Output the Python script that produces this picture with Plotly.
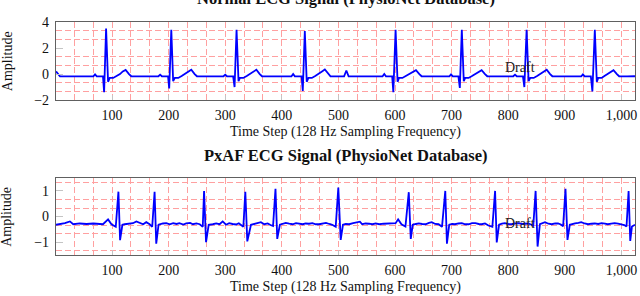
import plotly.graph_objects as go

# ---------------- data ----------------
normal_x = [1, 4, 8, 30, 50,
            67, 70, 73, 84, 86, 89.5, 93, 96, 102, 108, 114, 119, 124, 130, 134, 150, 170,
            182, 185, 188, 199, 201, 204.7, 208, 211, 217, 223, 229, 235, 240, 246, 250, 270, 285,
            297, 300, 303, 314, 316.5, 320, 323.5, 326, 332, 338, 344, 350, 355, 361, 365, 385, 405,
            417, 420, 423, 435, 437, 440.6, 444, 447, 453, 459, 465, 471, 476, 482, 486, 500,
            510, 514, 518, 540, 560,
            578, 581, 584, 595, 597, 601, 604.5, 607, 613, 619, 625, 631, 637, 643, 647, 665, 685,
            696, 699, 702, 712, 714.5, 718, 721.5, 724, 730, 736, 742, 748, 753, 759, 763, 780, 800,
            809, 812, 815, 826, 828.5, 832.5, 836, 839, 845, 851, 857, 863, 868, 874, 878, 900, 920,
            929, 932, 935, 946, 948.7, 953, 956.5, 959, 965, 970, 975, 981, 986, 992, 996, 1010, 1024]
normal_y = [0.2, 0.0, -0.17, -0.18, -0.17,
            -0.17, -0.02, -0.17, -0.18, -1.4, 3.5, -0.6, -0.3, -0.3, -0.15, 0.0, 0.2, 0.32, 0.0, -0.17, -0.18, -0.17,
            -0.17, -0.05, -0.17, -0.18, -1.1, 3.4, -0.55, -0.3, -0.3, -0.15, 0.0, 0.2, 0.33, 0.0, -0.17, -0.18, -0.17,
            -0.17, -0.05, -0.17, -0.18, -1.0, 3.4, -0.55, -0.3, -0.3, -0.15, 0.0, 0.2, 0.33, 0.0, -0.17, -0.18, -0.17,
            -0.17, 0.0, -0.17, -0.18, -1.3, 3.3, -0.6, -0.3, -0.3, -0.15, 0.0, 0.2, 0.35, 0.0, -0.17, -0.18,
            -0.17, 0.27, -0.17, -0.18, -0.17,
            -0.17, 0.0, -0.17, -0.18, -1.4, 3.4, -0.6, -0.3, -0.3, -0.15, 0.0, 0.2, 0.3, 0.0, -0.17, -0.18, -0.17,
            -0.17, -0.02, -0.17, -0.18, -1.07, 3.4, -0.55, -0.3, -0.3, -0.15, 0.0, 0.2, 0.3, 0.0, -0.17, -0.18, -0.17,
            -0.17, -0.05, -0.17, -0.18, -1.0, 3.4, -0.55, -0.3, -0.3, -0.15, 0.0, 0.2, 0.33, 0.0, -0.17, -0.18, -0.17,
            -0.17, -0.02, -0.17, -0.18, -1.33, 3.4, -0.6, -0.3, -0.3, -0.15, 0.0, 0.2, 0.3, 0.0, -0.17, -0.18, -0.17]

pxaf_x = [1, 10, 16.8, 25.6, 31.5, 43, 55, 67, 76, 84, 93, 99, 106.6, 111.3, 114.2, 118.3, 122.4,
          130, 137, 143, 149, 155, 160.5, 166.4, 171, 175.2, 178.1, 182.2,
          190, 196, 202, 208, 214, 219, 226, 231, 238, 243, 249, 255, 260.3, 262.6, 266.1, 270.8,
          278, 284, 290, 295.5, 301.4, 307, 313, 319, 324, 328, 332, 335.5, 339, 345.5,
          354, 363, 369, 375, 380, 384.5, 388.8, 391.9, 396.6,
          402, 407, 413, 419, 425, 431, 437, 442, 448, 454, 460, 466, 472, 478, 484, 489, 495.2, 499.8, 504, 508,
          513, 519, 526, 533, 538, 542, 548, 554, 560, 566, 572, 580, 589, 595, 601, 605.5, 611.4, 618.4,
          624.3, 627.8, 631.3, 637, 642, 648, 654, 660, 665, 671, 677, 683, 688.8, 691.7, 695.8,
          701, 706, 712, 718, 724, 730, 736, 742, 748, 753, 759, 765, 772, 776.8, 779.7, 783.8,
          789, 794, 800, 806, 812, 818, 824, 830, 835.5, 840, 844.3, 848.4, 851.9, 856,
          861, 865, 871, 877, 883, 888, 893, 897, 901.2, 904.7, 908.8,
          913, 918, 924, 929, 935, 941, 947, 953, 959, 965, 971, 976, 982, 988, 994, 1000, 1005, 1009,
          1012.7, 1015.6, 1018.6, 1024]
pxaf_y = [-0.32, -0.29, -0.26, -0.19, -0.30, -0.27, -0.29, -0.27, -0.28, -0.30, -0.11, -0.30, -0.40, 0.97, -0.92, -0.32, -0.30,
          -0.27, -0.26, -0.19, -0.26, -0.30, -0.22, -0.30, -0.40, 0.97, -1.06, -0.32,
          -0.27, -0.26, -0.30, -0.26, -0.29, -0.26, -0.31, -0.27, -0.25, -0.30, -0.27, -0.30, -0.40, 1.0, -1.0, -0.32,
          -0.30, -0.27, -0.30, -0.19, -0.32, -0.26, -0.29, -0.31, -0.26, -0.33, -0.40, 0.97, -0.97, -0.32,
          -0.26, -0.22, -0.30, -0.27, -0.33, -0.37, 1.08, -0.87, -0.32,
          -0.28, -0.25, -0.28, -0.30, -0.26, -0.27, -0.30, -0.27, -0.28, -0.26, -0.30, -0.30, -0.26, -0.25, -0.29, -0.32, -0.40, 1.13, -0.91, -0.32,
          -0.29, -0.30, -0.26, -0.23, -0.20, -0.30, -0.27, -0.28, -0.30, -0.27, -0.30, -0.28, -0.28, -0.27, -0.26, -0.11, -0.30, -0.39,
          0.95, -0.87, -0.32, -0.29, -0.27, -0.29, -0.30, -0.25, -0.22, -0.29, -0.30, -0.40, 1.0, -1.06, -0.32,
          -0.29, -0.30, -0.27, -0.26, -0.30, -0.30, -0.26, -0.26, -0.29, -0.30, -0.27, -0.35, -0.40, 1.0, -1.01, -0.32,
          -0.28, -0.26, -0.29, -0.30, -0.27, -0.26, -0.29, -0.27, -0.27, -0.31, -0.36, 1.0, -1.17, -0.30,
          -0.25, -0.22, -0.28, -0.30, -0.27, -0.27, -0.31, -0.38, 1.08, -0.91, -0.32,
          -0.29, -0.27, -0.25, -0.22, -0.27, -0.30, -0.28, -0.27, -0.29, -0.26, -0.28, -0.30, -0.28, -0.26, -0.28, -0.30, -0.33, -0.39,
          1.0, -0.95, -0.39, -0.32]

x_ticks = [100, 200, 300, 400, 500, 600, 700, 800, 900, 1000]
top_y_ticks = [-2, 0, 2, 4]
bot_y_ticks = [-1, 0, 1]
titles = ["Normal ECG Signal (PhysioNet Database)", "PxAF ECG Signal (PhysioNet Database)"]
x_label = "Time Step (128 Hz Sampling Frequency)"
y_label = "Amplitude"
watermark = "Draft"

# ---------------- figure ----------------
FONT = "Liberation Serif"
LINE = "#0000ff"
GRID = "rgb(255,160,160)"
DASH = "6px,3px"

# ECG-paper style grid: vertical every 1/3 of 100 samples; horizontal at the
# minor positions (thirds of the major step) between the labelled ticks
x_grid = [k * 100.0 / 3.0 for k in range(1, 31)]
def y_grid(major_ticks):
    step = (major_ticks[1] - major_ticks[0]) / 3.0
    lo = major_ticks[0] - 3 * step
    vals = []
    for k in range(0, 3 * (len(major_ticks) + 1) + 1):
        v = round(lo + k * step, 6)
        if k % 3 != 0:
            vals.append(v)
    return vals

fig = go.Figure()
fig.add_trace(go.Scatter(x=normal_x, y=normal_y, mode="lines",
                         line=dict(color=LINE, width=1.8), xaxis="x", yaxis="y",
                         showlegend=False, hoverinfo="skip"))
fig.add_trace(go.Scatter(x=pxaf_x, y=pxaf_y, mode="lines",
                         line=dict(color=LINE, width=1.8), xaxis="x2", yaxis="y2",
                         showlegend=False, hoverinfo="skip"))

def xaxis_cfg(anchor):
    return dict(range=[1, 1024], anchor=anchor, domain=[0, 1],
                tickmode="array", tickvals=x_ticks, separatethousands=True,
                showgrid=False,
                minor=dict(tickmode="array", tickvals=x_grid, showgrid=True, gridcolor=GRID,
                           griddash=DASH, gridwidth=1.2, ticks=""),
                ticks="inside", ticklen=5, tickcolor="#c4c4c4", tickwidth=1,
                showline=True, mirror=True, linecolor="#606060", linewidth=1.2,
                zeroline=False, tickfont=dict(family=FONT, size=14, color="#111"),
                ticklabelstandoff=2)

def yaxis_cfg(anchor, rng, ticks):
    return dict(range=rng, anchor=anchor, tickmode="array", tickvals=ticks,
                showgrid=False,
                minor=dict(tickmode="array", tickvals=y_grid(ticks), showgrid=True,
                           gridcolor=GRID, griddash=DASH, gridwidth=1.2, ticks=""),
                ticks="inside", ticklen=7, tickcolor="#c4c4c4", tickwidth=1,
                showline=True, mirror=True, linecolor="#606060", linewidth=1.2,
                zeroline=False, tickfont=dict(family=FONT, size=14, color="#111"),
                ticklabelstandoff=3)

top_dom = [0.665, 1.0]
bot_dom = [0.0, 0.330]
fig.update_layout(
    width=640, height=296,
    margin=dict(l=56, r=3, t=22, b=41),
    paper_bgcolor="white", plot_bgcolor="white",
    xaxis=dict(xaxis_cfg("y")),
    yaxis=dict(yaxis_cfg("x", [-2, 4], top_y_ticks), domain=top_dom),
    xaxis2=dict(xaxis_cfg("y2")),
    yaxis2=dict(yaxis_cfg("x2", [-1.5, 1.5], bot_y_ticks), domain=bot_dom),
)

H = 233.0
def py(real_y):
    return (255.0 - real_y) / H

ann = []
for i, (ty, xl_y, yl_y) in enumerate([(-1.5, 131.5, 61.0), (155.0, 286.5, 216.7)]):
    ann.append(dict(text="<b>" + titles[i] + "</b>", xref="paper", yref="paper",
                    x=0.5, y=py(ty), xanchor="center", yanchor="middle", showarrow=False,
                    font=dict(family=FONT, size=16.5, color="#111")))
    ann.append(dict(text=x_label, xref="paper", yref="paper", x=0.5, y=py(xl_y),
                    xanchor="center", yanchor="middle", showarrow=False,
                    font=dict(family=FONT, size=14, color="#111")))
    ann.append(dict(text=y_label, xref="paper", yref="paper", x=(7 - 56) / 581.0, y=py(yl_y),
                    xanchor="center", yanchor="middle", showarrow=False, textangle=-90,
                    font=dict(family=FONT, size=14, color="#111")))
ann.append(dict(text=watermark, xref="x", yref="y", x=821, y=0.5, showarrow=False,
                font=dict(family=FONT, size=14, color="#222")))
ann.append(dict(text=watermark, xref="x2", yref="y2", x=821, y=-0.28, showarrow=False,
                font=dict(family=FONT, size=14, color="#222")))
fig.update_layout(annotations=ann)

fig.write_html("out.html", config={"displayModeBar": False},
               post_script="document.body.style.margin='0';document.body.style.overflow='hidden';")
